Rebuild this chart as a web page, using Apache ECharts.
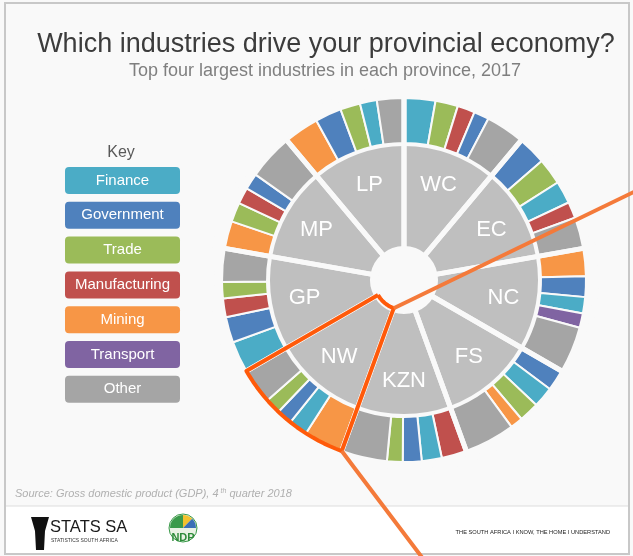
<!DOCTYPE html>
<html><head><meta charset="utf-8">
<script src="https://cdn.jsdelivr.net/npm/echarts@6/dist/echarts.min.js"></script>
<style>html,body{margin:0;padding:0;background:#f9f9f9}#chart{width:633px;height:556px}</style>
</head><body><div id="chart"></div>
<script>
// ---- data ----
const provinces = ['WC', 'EC', 'NC', 'FS', 'KZN', 'NW', 'GP', 'MP', 'LP'];
const industries = ['Finance', 'Government', 'Trade', 'Manufacturing', 'Mining', 'Transport', 'Other'];

const wcSectors = ['Finance', 'Trade', 'Manufacturing', 'Government', 'Other'];
const wcShares = [25, 18, 14, 12, 31];
const ecSectors = ['Government', 'Trade', 'Finance', 'Manufacturing', 'Other'];
const ecShares = [23, 21, 18, 13, 25];
const ncSectors = ['Mining', 'Government', 'Finance', 'Transport', 'Other'];
const ncShares = [22, 16.5, 13, 11.5, 37];
const fsSectors = ['Government', 'Finance', 'Trade', 'Mining', 'Other'];
const fsShares = [17, 16.5, 16, 10, 40.5];
const kznSectors = ['Manufacturing', 'Finance', 'Government', 'Trade', 'Other'];
const kznShares = [20, 16, 15, 12.5, 36.5];
const nwSectors = ['Mining', 'Finance', 'Government', 'Trade', 'Other'];
const nwShares = [31.5, 15, 12.5, 12.5, 28.5];
const gpSectors = ['Finance', 'Government', 'Manufacturing', 'Trade', 'Other'];
const gpShares = [25, 20.5, 15, 13, 26.5];
const mpSectors = ['Mining', 'Trade', 'Manufacturing', 'Government', 'Other'];
const mpShares = [22, 15.5, 13, 13, 36.5];
const lpSectors = ['Mining', 'Government', 'Trade', 'Finance', 'Other'];
const lpShares = [28, 21, 16, 13.5, 21.5];

// ---- styles ----
const industryColors = ['#4bacc6', '#4f81bd', '#9bbb59', '#c0504d', '#f79646', '#8064a2', '#a5a5a5'];
const BG = '#f9f9f9';
const FONT = '"Liberation Sans", Arial, sans-serif';
const CX = 404, CY = 280;

const sectorLists = [wcSectors, ecSectors, ncSectors, fsSectors, kznSectors, nwSectors, gpSectors, mpSectors, lpSectors];
const shareLists = [wcShares, ecShares, ncShares, fsShares, kznShares, nwShares, gpShares, mpShares, lpShares];

const colorOf = name => industryColors[industries.indexOf(name)];

const outerData = [];
provinces.forEach((p, i) => {
  sectorLists[i].forEach((s, j) => {
    outerData.push({ name: p + ' ' + s, value: shareLists[i][j], itemStyle: { color: colorOf(s) } });
  });
});
const provData = provinces.map(p => ({ name: p, value: 1 }));

// legend (key) built from industries
const legendEls = [{
  type: 'text', z: 50,
  style: { text: 'Key', x: 121, y: 153, align: 'center', verticalAlign: 'middle', textAlign: 'center', textVerticalAlign: 'middle', fill: '#595959', font: '16px ' + FONT }
}];
industries.forEach((ind, i) => {
  const top = 167 + i * 34.8;
  legendEls.push({ type: 'rect', z: 50, shape: { x: 65, y: top, width: 115, height: 27, r: 4 }, style: { fill: industryColors[i] } });
  legendEls.push({
    type: 'text', z: 51,
    style: { text: ind, x: 122.5, y: top + 13.5, align: 'center', verticalAlign: 'middle', textAlign: 'center', textVerticalAlign: 'middle', fill: '#ffffff', font: '15px ' + FONT }
  });
});

// annotation (hand-drawn highlight of NW)
function pt(a, r) { const t = a * Math.PI / 180; return [CX + r * Math.sin(t), CY - r * Math.cos(t)]; }
const outline = [];
for (let a = 240; a >= 200; a -= 4) outline.push(pt(a, 30));
for (let a = 200; a <= 240; a += 2) outline.push(pt(a, 182));
outline.push(pt(240, 30));

const option = {
  backgroundColor: BG,
  animation: false,
  title: [
    { text: 'Which industries drive your provincial economy?', left: 321, top: 26, textAlign: 'center',
      textStyle: { fontFamily: FONT, fontSize: 27, fontWeight: 'normal', color: '#3c3c3c' } },
    { text: 'Top four largest industries in each province, 2017', left: 320, top: 57, textAlign: 'center',
      textStyle: { fontFamily: FONT, fontSize: 18, fontWeight: 'normal', color: '#7f7f7f' } }
  ],
  series: [
    { type: 'pie', silent: true, center: [CX, CY], radius: [34, 134], startAngle: 90, clockwise: true,
      data: provData, label: { show: false }, labelLine: { show: false },
      itemStyle: { color: '#bfbfbf', borderWidth: 0 } },
    { type: 'pie', silent: true, center: [CX, CY], radius: [137, 182], startAngle: 90, clockwise: true,
      data: outerData, label: { show: false }, labelLine: { show: false },
      itemStyle: { borderColor: BG, borderWidth: 2 } },
    { type: 'pie', silent: true, center: [CX, CY], radius: [28, 192], startAngle: 90, clockwise: true,
      data: provData, label: { show: false }, labelLine: { show: false },
      itemStyle: { color: 'rgba(0,0,0,0)', borderColor: BG, borderWidth: 5 } },
    { type: 'pie', silent: true, center: [CX, CY], radius: [62, 134], startAngle: 90, clockwise: true,
      data: provData, labelLine: { show: false },
      itemStyle: { color: 'rgba(0,0,0,0)', borderWidth: 0 },
      label: { show: true, position: 'inside', formatter: '{b}', color: '#ffffff', fontSize: 22, fontFamily: FONT } }
  ],
  graphic: {
    elements: [
      { type: 'rect', z: -10, silent: true, shape: { x: 5, y: 506, width: 624, height: 48 }, style: { fill: '#ffffff' } },
      { type: 'line', z: -9, silent: true, shape: { x1: 5, y1: 506, x2: 629, y2: 506 }, style: { stroke: '#dddddd', lineWidth: 1 } },
      { type: 'rect', z: 60, silent: true, shape: { x: 5, y: 3, width: 624, height: 551 }, style: { fill: 'none', stroke: '#c8c8c8', lineWidth: 2 } },
      { type: 'text', z: 50, style: { text: 'Source: Gross domestic product (GDP), 4', x: 15, y: 494, verticalAlign: 'middle', textVerticalAlign: 'middle', fill: '#b0b0b0', font: 'italic 11px ' + FONT } },
      { type: 'text', z: 50, style: { text: 'th', x: 220.5, y: 491, verticalAlign: 'middle', textVerticalAlign: 'middle', fill: '#b0b0b0', font: 'italic 7px ' + FONT } },
      { type: 'text', z: 50, style: { text: 'quarter 2018', x: 229.5, y: 494, verticalAlign: 'middle', textVerticalAlign: 'middle', fill: '#b0b0b0', font: 'italic 11px ' + FONT } },
      // STATS SA logo
      { type: 'polygon', z: 50, shape: { points: [[31, 517], [49, 517], [45, 531], [44, 550], [36, 550], [35, 531]] }, style: { fill: '#111111' } },
      { type: 'text', z: 50, style: { text: 'STATS SA', x: 50, y: 527, verticalAlign: 'middle', textVerticalAlign: 'middle', fill: '#1a1a1a', font: '16.5px ' + FONT } },
      { type: 'text', z: 50, style: { text: 'STATISTICS SOUTH AFRICA', x: 51, y: 541, verticalAlign: 'middle', textVerticalAlign: 'middle', fill: '#333333', font: '5px ' + FONT } },
      // NDP logo
      { type: 'circle', z: 50, shape: { cx: 183, cy: 528, r: 14 }, style: { fill: '#e9f2e4', stroke: '#3a9a4a', lineWidth: 1 } },
      { type: 'sector', z: 51, shape: { cx: 183, cy: 528, r: 13, r0: 0, startAngle: Math.PI, endAngle: Math.PI * 1.5 }, style: { fill: '#3a9a4a' } },
      { type: 'sector', z: 51, shape: { cx: 183, cy: 528, r: 13, r0: 0, startAngle: Math.PI * 1.5, endAngle: Math.PI * 1.75 }, style: { fill: '#f2c12e' } },
      { type: 'sector', z: 51, shape: { cx: 183, cy: 528, r: 13, r0: 0, startAngle: Math.PI * 1.75, endAngle: Math.PI * 2 }, style: { fill: '#3b6fb6' } },
      { type: 'text', z: 52, style: { text: 'NDP', x: 183, y: 538, align: 'center', textAlign: 'center', verticalAlign: 'middle', textVerticalAlign: 'middle', fill: '#2e8b3a', font: 'bold 11px ' + FONT } },
      { type: 'text', z: 50, style: { text: 'THE SOUTH AFRICA I KNOW, THE HOME I UNDERSTAND', x: 610, y: 532, align: 'right', textAlign: 'right', verticalAlign: 'middle', textVerticalAlign: 'middle', fill: '#222222', font: '5.7px ' + FONT } },
      // annotation
      { type: 'polyline', z: 100, silent: true, shape: { points: outline }, style: { stroke: '#ff5a0a', lineWidth: 4, fill: 'none', lineJoin: 'round' } },
      { type: 'polyline', z: 100, silent: true, shape: { points: [[640, 189], pt(200, 30)] }, style: { stroke: '#f47a3a', lineWidth: 4, fill: 'none' } },
      { type: 'polyline', z: 100, silent: true, shape: { points: [pt(200, 182), [356, 470], [424, 560]] }, style: { stroke: '#f47a3a', lineWidth: 4, fill: 'none' } }
    ].concat(legendEls)
  }
};

const chart = echarts.init(document.getElementById('chart'), null, { renderer: 'canvas' });
chart.setOption(option);
</script>
</body></html>
